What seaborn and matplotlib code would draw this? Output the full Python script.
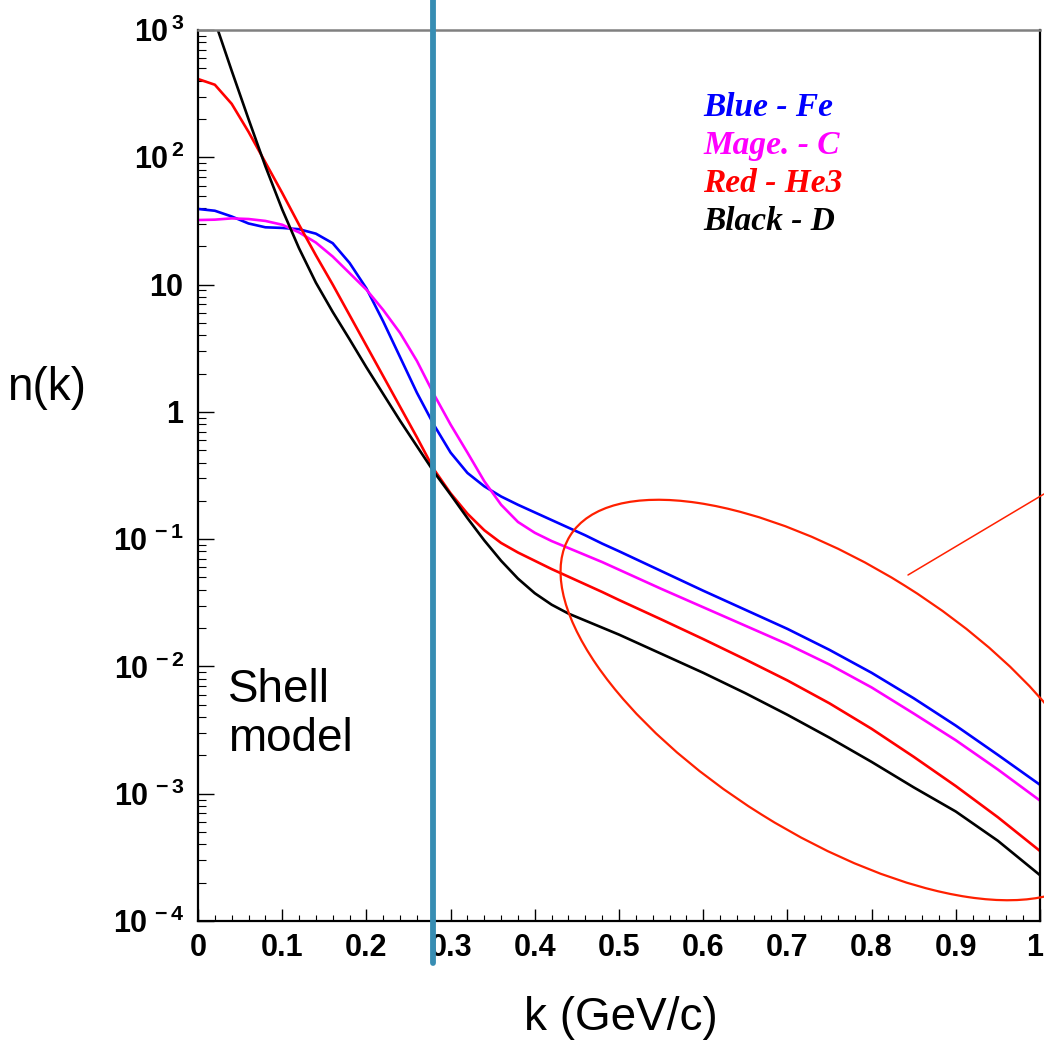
import numpy as np
import pandas as pd
import seaborn as sns
import matplotlib
matplotlib.use("Agg")
import matplotlib.pyplot as plt
from matplotlib.patches import Ellipse
from matplotlib.lines import Line2D
from matplotlib.transforms import ScaledTranslation
from matplotlib.ticker import FixedLocator, FixedFormatter, LogLocator, MultipleLocator, NullFormatter

# ---------------- data ----------------
k_values = [0.00, 0.02, 0.04, 0.06, 0.08, 0.10, 0.12, 0.14, 0.16, 0.18,
            0.20, 0.22, 0.24, 0.26, 0.28, 0.30, 0.32, 0.34, 0.36, 0.38,
            0.40, 0.42, 0.44, 0.46, 0.48, 0.50,
            0.55, 0.60, 0.65, 0.70, 0.75, 0.80, 0.85, 0.90, 0.95, 1.00]

# log10 n(k) for each nucleus
log_n_fe = [1.594, 1.58, 1.535, 1.48, 1.45, 1.445, 1.435, 1.40, 1.325, 1.17,
            0.97, 0.71, 0.43, 0.15, -0.10, -0.32, -0.48, -0.585, -0.665, -0.73,
            -0.79, -0.85, -0.91, -0.97, -1.035, -1.095,
            -1.25, -1.405, -1.555, -1.705, -1.87, -2.05, -2.25, -2.465, -2.695, -2.93]
log_n_c = [1.507, 1.51, 1.52, 1.515, 1.50, 1.47, 1.41, 1.33, 1.22, 1.09,
           0.96, 0.80, 0.62, 0.40, 0.14, -0.10, -0.32, -0.545, -0.73, -0.865,
           -0.95, -1.015, -1.07, -1.125, -1.18, -1.24,
           -1.39, -1.535, -1.68, -1.825, -1.985, -2.165, -2.37, -2.58, -2.81, -3.054]
log_n_he3 = [2.615, 2.57, 2.42, 2.20, 1.96, 1.72, 1.47, 1.23, 1.00, 0.76,
             0.52, 0.28, 0.04, -0.20, -0.45, -0.64, -0.80, -0.93, -1.03, -1.105,
             -1.17, -1.235, -1.295, -1.355, -1.415, -1.478,
             -1.63, -1.785, -1.945, -2.11, -2.29, -2.49, -2.71, -2.94, -3.185, -3.45]
log_n_d = [3.48, 3.07, 2.68, 2.30, 1.93, 1.59, 1.285, 1.015, 0.785, 0.57,
           0.35, 0.14, -0.07, -0.27, -0.47, -0.65, -0.835, -1.01, -1.17, -1.31,
           -1.425, -1.515, -1.585, -1.64, -1.695, -1.75,
           -1.90, -2.05, -2.21, -2.38, -2.56, -2.75, -2.95, -3.14, -3.37, -3.64]

series_names = ["Fe", "C", "He3", "D"]
series_colors = {"Fe": "#0000FF", "C": "#FF00FF", "He3": "#FF0000", "D": "#000000"}
legend_texts = ["Blue - Fe", "Mage. - C", "Red - He3", "Black - D"]

x_tick_values = [0, 0.1, 0.2, 0.3, 0.4, 0.5, 0.6, 0.7, 0.8, 0.9, 1.0]
x_tick_labels = ["0", "0.1", "0.2", "0.3", "0.4", "0.5", "0.6", "0.7", "0.8", "0.9", "1"]
y_exponents = [-4, -3, -2, -1, 0, 1, 2, 3]

shell_boundary_k = 0.279

# ---------------- style ----------------
sns.set_theme(style="white")
plt.rcParams["font.family"] = ["Liberation Sans", "DejaVu Sans"]
plt.rcParams["mathtext.fontset"] = "custom"
plt.rcParams["mathtext.rm"] = "Liberation Sans:bold"
plt.rcParams["mathtext.it"] = "Liberation Sans:bold"
plt.rcParams["mathtext.bf"] = "Liberation Sans:bold"

W, H = 1044, 1042
fig = plt.figure(figsize=(W / 100, H / 100), dpi=100)
fig.patch.set_facecolor("white")
ax = fig.add_axes([198 / W, (H - 921) / H, 842 / W, 891 / H])
ax.set_facecolor("white")

# ---------------- data frame & lines ----------------
frames = []
for name, arr in zip(series_names, [log_n_fe, log_n_c, log_n_he3, log_n_d]):
    frames.append(pd.DataFrame({"k": k_values, "n": 10 ** np.array(arr), "nucleus": name}))
df = pd.concat(frames, ignore_index=True)

sns.lineplot(data=df, x="k", y="n", hue="nucleus", hue_order=series_names,
             palette=series_colors, estimator=None, linewidth=1.9, legend=False, ax=ax)
for ln in ax.get_lines():
    ln.set_solid_joinstyle("round")

ax.set_yscale("log")
ax.set_xlim(0, 1)
ax.set_ylim(1e-4, 1e3)
ax.set_xlabel("")
ax.set_ylabel("")

# ---------------- ticks ----------------
ax.xaxis.set_major_locator(FixedLocator(x_tick_values))
ax.xaxis.set_major_formatter(FixedFormatter(x_tick_labels))
ax.xaxis.set_minor_locator(MultipleLocator(0.02))

ylabels = []
for e in y_exponents:
    if e == 1:
        ylabels.append(r"$10\quad$")
    elif e == 0:
        ylabels.append(r"$1\quad$")
    else:
        ylabels.append(r"$10^{\,%d}$" % e)
ax.yaxis.set_major_locator(FixedLocator([10.0 ** e for e in y_exponents]))
ax.yaxis.set_major_formatter(FixedFormatter(ylabels))
ax.yaxis.set_minor_locator(LogLocator(base=10, subs=np.arange(2, 10)))
ax.yaxis.set_minor_formatter(NullFormatter())

ax.tick_params(axis="y", which="major", direction="in", length=11.5, width=1.0,
               pad=10, labelsize=22, left=True, right=False, colors="black")
ax.tick_params(axis="y", which="minor", direction="in", length=5.8, width=0.8,
               left=True, right=False, colors="black")
ax.tick_params(axis="x", which="major", direction="in", length=8.6, width=1.0,
               pad=9, labelsize=22, bottom=True, top=False, colors="black")
ax.tick_params(axis="x", which="minor", direction="in", length=4.3, width=0.8,
               bottom=True, top=False, colors="black")
xlabs = ax.get_xticklabels()
for lab in xlabs:
    lab.set_fontweight("bold")
    lab.set_fontfamily("Liberation Sans")
xlabs[-1].set_transform(xlabs[-1].get_transform() +
                        ScaledTranslation(-0.05, 0, fig.dpi_scale_trans))

for side in ["left", "bottom", "right"]:
    ax.spines[side].set_color("black")
    ax.spines[side].set_linewidth(1.6)
ax.spines["top"].set_color("#808080")
ax.spines["top"].set_linewidth(1.8)

# ---------------- legend texts ----------------
legend_baselines = [116, 154, 192, 230]
for txt, name, yb in zip(legend_texts, series_names, legend_baselines):
    fig.text(703 / W, (H - yb) / H, txt, color=series_colors[name],
             fontfamily="Liberation Serif", fontweight="bold", fontstyle="italic",
             fontsize=24, ha="left", va="baseline")

# ---------------- annotation texts ----------------
fig.text(7 / W, (H - 388) / H, "n(k)", fontsize=33, ha="left", va="center",
         color="black")
fig.text(621 / W, (H - 1018) / H, "k (GeV/c)", fontsize=33, ha="center",
         va="center", color="black")
fig.text(228 / W, (H - 668) / H, "Shell\nmodel", fontsize=33, ha="left",
         va="top", linespacing=1.15, color="black")

# ---------------- vertical shell-model boundary ----------------
ax.axvline(shell_boundary_k, ymin=(921 - 963) / 891, ymax=921 / 891,
           color="#378DB3", linewidth=4.2, clip_on=False, zorder=5)

# ---------------- red ellipse and pointer line ----------------
ell = Ellipse((833 / 100, (H - 700) / 100), width=6.2, height=2.7, angle=-32.0,
              transform=fig.dpi_scale_trans, fill=False, edgecolor="#FF2000",
              linewidth=1.6, clip_on=False, zorder=6)
fig.add_artist(ell)
fig.add_artist(Line2D([908 / 100, 1070 / 100], [(H - 575) / 100, (H - 478.5) / 100],
                      transform=fig.dpi_scale_trans, color="#FF2000", linewidth=1.1,
                      clip_on=False, zorder=6))

fig.savefig("out.png", dpi=100, facecolor="white")
